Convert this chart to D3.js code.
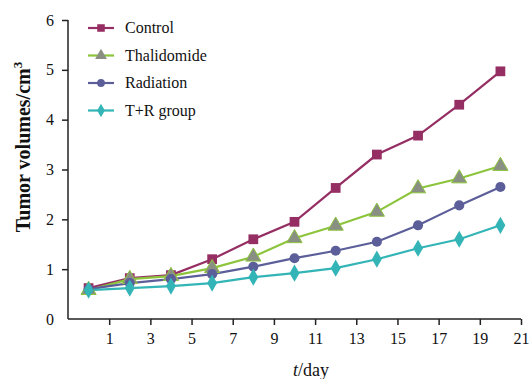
<!DOCTYPE html>
<html><head><meta charset="utf-8">
<script src="https://cdn.jsdelivr.net/npm/d3@7"></script>
<style>body{margin:0;background:#fff}svg{display:block}svg text{font-family:"Liberation Serif","Times New Roman",serif}</style>
</head><body><svg id="c" width="532" height="379"></svg>
<script>
const days = [0,2,4,6,8,10,12,14,16,18,20];
const xTicks = [1,3,5,7,9,11,13,15,17,19,21];
const yTicks = [0,1,2,3,4,5,6];
const seriesNames = ["Control","Thalidomide","Radiation","T+R group"];
const control     = [0.62,0.82,0.88,1.20,1.60,1.95,2.63,3.30,3.68,4.30,4.97];
const thalidomide = [0.58,0.80,0.86,1.02,1.25,1.62,1.87,2.15,2.62,2.82,3.07];
const radiation   = [0.60,0.72,0.80,0.90,1.05,1.22,1.37,1.55,1.88,2.28,2.65];
const trGroup     = [0.58,0.62,0.66,0.72,0.84,0.92,1.02,1.20,1.42,1.60,1.88];
const lineColors = ["#952e63","#8cc43c","#5c5e9a","#33b4b6"];
const markFill   = ["#952e63","#8a8f84","#5c5e9a","#33b4b6"];
const markType   = [d3.symbolSquare,d3.symbolTriangle,d3.symbolCircle,d3.symbolDiamond];
const markSize   = [95,100,80,85];
const allSeries = [control,thalidomide,radiation,trGroup];
const FONT = '"Liberation Serif","Times New Roman",serif';

const svg = d3.select("#c");
const x = d3.scaleLinear().domain([-1,21]).range([68,521]);
const y = d3.scaleLinear().domain([0,6]).range([319,20]);

const gx = svg.append("g").attr("transform","translate(0,319)")
  .call(d3.axisBottom(x).tickValues(xTicks).tickFormat(d3.format("d")).tickSize(6).tickPadding(8).tickSizeOuter(0));
const gy = svg.append("g").attr("transform","translate(68,0)")
  .call(d3.axisLeft(y).tickValues(yTicks).tickFormat(d3.format("d")).tickSize(6).tickPadding(8).tickSizeOuter(0));
[gx,gy].forEach(g=>{
  g.attr("font-family",FONT).attr("font-size",16);
  g.select(".domain").attr("stroke","#222").attr("stroke-width",1.5);
  g.selectAll(".tick line").attr("stroke","#222").attr("stroke-width",1.5);
  g.selectAll(".tick text").attr("fill","#111");
});
gy.select(".tick:first-of-type line").remove();
gx.select(".domain").attr("d","M68,0H521");
gy.select(".domain").attr("d","M0,"+y(6)+"V"+y(0));

svg.append("text").attr("x",311).attr("y",376).attr("text-anchor","middle")
  .attr("font-size",18).attr("fill","#111")
  .html('<tspan font-style="italic">t</tspan>/day');
svg.append("text").attr("transform","translate(30,147) rotate(-90)")
  .attr("text-anchor","middle").attr("font-size",20).attr("font-weight","bold").attr("fill","#111")
  .html('Tumor volumes/cm<tspan dy="-8" font-size="13">3</tspan>');

const line = d3.line().x((d,i)=>x(days[i])).y(d=>y(d));
allSeries.forEach((s,k)=>{
  svg.append("path").datum(s).attr("d",line).attr("fill","none")
    .attr("stroke",lineColors[k]).attr("stroke-width",2.2);
});
allSeries.forEach((s,k)=>{
  svg.append("g").selectAll("path").data(s).join("path")
    .attr("transform",(d,i)=>`translate(${x(days[i])},${y(d)})`)
    .attr("d",d3.symbol().type(markType[k]).size(markSize[k]))
    .attr("fill",markFill[k])
    .attr("stroke",k===1?lineColors[1]:"none").attr("stroke-width",1);
});

const lg = svg.append("g");
seriesNames.forEach((n,k)=>{
  const yy = 28 + k*27.5;
  lg.append("line").attr("x1",88).attr("x2",114).attr("y1",yy).attr("y2",yy)
    .attr("stroke",lineColors[k]).attr("stroke-width",2.2);
  lg.append("path").attr("transform",`translate(101,${yy})`)
    .attr("d",d3.symbol().type(markType[k]).size(markSize[k]*0.6))
    .attr("fill",markFill[k]);
  lg.append("text").attr("x",125).attr("y",yy+5).attr("font-size",16).attr("fill","#111").text(n);
});
</script></body></html>
